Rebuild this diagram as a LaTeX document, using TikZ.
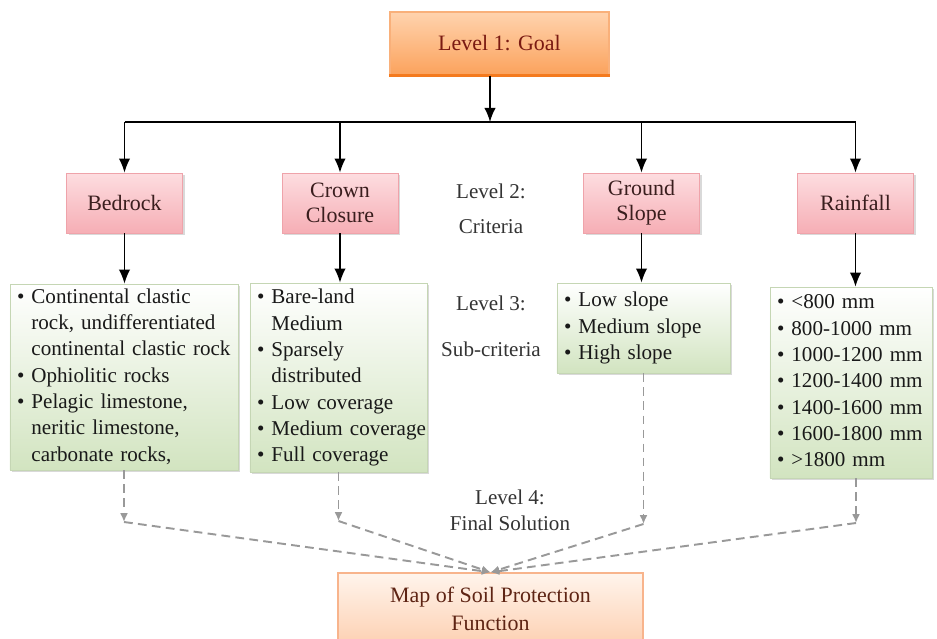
\documentclass[tikz,border=0pt]{standalone}
\usepackage{fontspec}
\setmainfont{Liberation Serif}
\usepackage{tikz}
\usetikzlibrary{arrows.meta}
\usetikzlibrary{shadows}
\usetikzlibrary{calc}
\tikzstyle{line} = [draw, -{Latex[length=8pt, width=6.5pt]}, line width=0.9pt]
\tikzstyle{dashline} = [draw, -{Latex[length=5pt, width=4.5pt]}, gray!80, line width=1.1pt, dash pattern=on 5pt off 3pt]
\definecolor{goaltop}{HTML}{FFD3AE}
\definecolor{goalbot}{HTML}{FBA25C}
\definecolor{goaledge}{HTML}{F9B07A}
\definecolor{goalline}{HTML}{F47A1E}
\definecolor{goaltext}{HTML}{7A1A12}
\definecolor{crittop}{HTML}{FDDDE0}
\definecolor{critbot}{HTML}{F6AEB5}
\definecolor{critedge}{HTML}{EFA3AA}
\definecolor{crittext}{HTML}{3A1E1E}
\definecolor{subtop}{HTML}{FFFFFF}
\definecolor{subbot}{HTML}{D2E4C0}
\definecolor{subedge}{HTML}{C5D6B4}
\definecolor{fintop}{HTML}{FFF4EC}
\definecolor{finbot}{HTML}{FDD0B2}
\definecolor{finedge}{HTML}{F8B48C}
\definecolor{fintext}{HTML}{5E2414}

\begin{document}
\begin{tikzpicture}[x=0.02cm, y=-0.02cm,
		goal/.style = {rectangle, draw=goaledge, line width=0.8pt,
			top color=goaltop, bottom color=goalbot,
			minimum width=4.38cm, minimum height=1.26cm,
			text=goaltext, font=\fontsize{12.5}{14}\selectfont},
		crit/.style = {rectangle, draw=critedge, top color=crittop, bottom color=critbot,
			minimum width=2.32cm, minimum height=1.2cm, align=center,
			text=crittext, font=\fontsize{12.5}{14}\selectfont,
			drop shadow={shadow xshift=1.2pt, shadow yshift=-1.2pt, opacity=0.3}},
		sub/.style = {rectangle, draw=subedge, top color=subtop, bottom color=subbot,
			inner xsep=4pt, inner ysep=0pt, align=left,
			text=black!90, font=\fontsize{12}{15}\selectfont,
			drop shadow={shadow xshift=1.2pt, shadow yshift=-1.2pt, opacity=0.3}},
		level/.style = {align=center, text=black!80, font=\fontsize{12}{14}\selectfont},
		fin/.style = {rectangle, draw=finedge, line width=0.8pt,
			top color=fintop, bottom color=finbot,
			minimum width=6.1cm, minimum height=1.44cm, align=center,
			text=fintext, font=\fontsize{12.5}{16}\selectfont}]
		
		\useasboundingbox (0,0) rectangle (937,639);
		\clip (0,0) rectangle (937,639);
		
		% Level 1
		\node[goal] (goal) at (499.5,43.5) {Level 1: Goal};
		\draw[goalline, line width=2pt] (goal.south west) -- (goal.south east);
		
		% Level 2
		\node[crit] (bed) at (124.5,203) {Bedrock};
		\node[crit] (crown) at (340,203) {Crown\\Closure};
		\node[crit] (slope) at (641.5,203) {Ground\\Slope};
		\node[crit] (rain) at (855.5,203) {Rainfall};
		\node[level] (lvtwo) at (491,209) {Level 2:\\[6pt]Criteria};
		
		% Level 3
		\node[sub, text width=4.28cm, minimum height=3.72cm] (s1) at (124,377) {%
			\begin{tabular}{@{}l@{\ }l@{}}
				\textbullet & Continental clastic\\
				& rock, undifferentiated\\
				& continental clastic rock\\
				\textbullet & Ophiolitic rocks\\
				\textbullet & Pelagic limestone,\\
				& neritic limestone,\\
				& carbonate rocks,
		\end{tabular}};
		\node[sub, text width=3.26cm, minimum height=3.78cm] (s2) at (338.5,377.5) {%
			\begin{tabular}{@{}l@{\ }l@{}}
				\textbullet & Bare-land\\
				& Medium\\
				\textbullet & Sparsely\\
				& distributed\\
				\textbullet & Low coverage\\
				\textbullet & Medium coverage\\
				\textbullet & Full coverage
		\end{tabular}};
		\node[sub, text width=3.18cm, minimum height=1.8cm] (s3) at (643.5,328) {%
			\begin{tabular}{@{}l@{\ }l@{}}
				\textbullet & Low slope\\
				\textbullet & Medium slope\\
				\textbullet & High slope
		\end{tabular}};
		\node[sub, text width=2.96cm, minimum height=3.82cm] (s4) at (851,382.5) {%
			\begin{tabular}{@{}l@{\ }l@{}}
				\textbullet & <800 mm\\
				\textbullet & 800-1000 mm\\
				\textbullet & 1000-1200 mm\\
				\textbullet & 1200-1400 mm\\
				\textbullet & 1400-1600 mm\\
				\textbullet & 1600-1800 mm\\
				\textbullet & >1800 mm
		\end{tabular}};
		\node[level] (lvthree) at (491,326) {Level 3:\\[12pt]Sub-criteria};
		
		% Level 4
		\node[level] (lvfour) at (510,510) {Level 4:\\[1pt]Final Solution};
		\node[fin] (fin) at (490.5,609) {Map of Soil Protection\\Function};
		
		% Solid arrows
		\coordinate (hub) at (490,122);
		\draw[line] (goal.south -| hub) -- (hub);
		\draw[line width=0.9pt] (hub -| bed) -- (hub -| rain);
		\draw[line] (hub -| bed) -- (bed.north);
		\draw[line] (hub -| crown) -- (crown.north);
		\draw[line] (hub -| slope) -- (slope.north);
		\draw[line] (hub -| rain) -- (rain.north);
		\draw[line] (bed.south) -- (bed.south |- s1.north);
		\draw[line] (crown.south) -- (crown.south |- s2.north);
		\draw[line] (slope.south) -- (slope.south |- s3.north);
		\draw[line] (rain.south) -- (rain.south |- s4.north);
		
		% Dashed arrows
		\coordinate (c1) at (124,522);
		\coordinate (c2) at (338.5,521);
		\coordinate (c3) at (643.5,524);
		\coordinate (c4) at (856,523);
		\draw[dashline] (s1.south) -- (c1);
		\draw[dashline] (s2.south) -- (c2);
		\draw[dashline] (s3.south) -- (c3);
		\draw[dashline] (c4 |- s4.south) -- (c4);
		\draw[dashline] (c1) -- (fin.north);
		\draw[dashline] (c2) -- (fin.north);
		\draw[dashline] (c3) -- (fin.north);
		\draw[dashline] (c4) -- (fin.north);
	\end{tikzpicture}
\end{document}
